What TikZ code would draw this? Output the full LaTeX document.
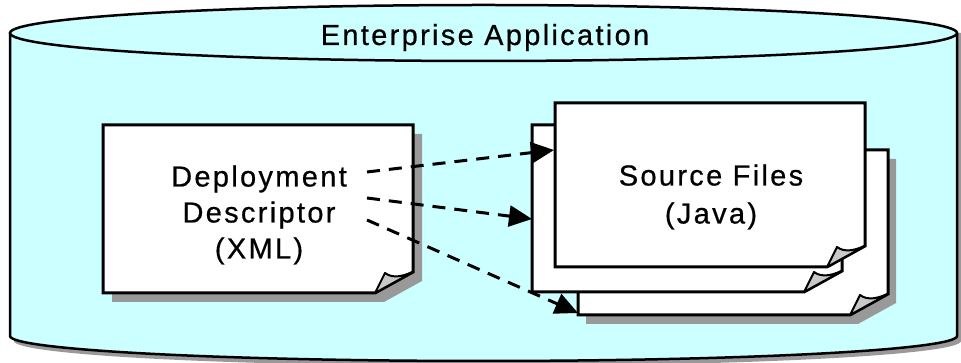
\documentclass[tikz,border=0pt]{standalone}
\usepackage{fontspec}
\setmainfont{Liberation Sans}[LetterSpace=8,FakeBold=0.6]
\usetikzlibrary{arrows.meta,calc}
\definecolor{cyl}{HTML}{CCFFFF}
\definecolor{shadowgray}{HTML}{999999}
\definecolor{flapgray}{HTML}{C8C8C8}
% outline of a page with a folded corner: node name, dx, dy
\newcommand\pgoutline[3]{($(#1.north west)+(#2,#3)$) -- ($(#1.north east)+(#2,#3)$) -- ($(#1.south east)+(#2,#3+21)$) -- ($(#1.south east)+(#2-38,#3)$) -- ($(#1.south west)+(#2,#3)$) -- cycle}
\newcommand\pgflap[1]{($(#1.south east)+(-38,0)$) -- ($(#1.south east)+(-28,20)$) .. controls ($(#1.south east)+(-20,14)$) and ($(#1.south east)+(-10,17)$) .. ($(#1.south east)+(0,21)$) -- cycle}
\begin{document}
\begin{tikzpicture}[x=1pt,y=1pt,
  pagebox/.style={inner sep=0pt, outer sep=0pt, minimum width=310pt, minimum height=166pt},
  pageline/.style={draw=black, fill=white, line width=3pt, line join=miter},
  flapline/.style={draw=black, fill=flapgray, line width=2pt, line join=round},
  dropshadow/.style={fill=shadowgray, draw=none},
  lbl/.style={inner sep=0pt, align=center, font=\fontsize{29}{36}\selectfont},
  conn/.style={line width=3pt, dash pattern=on 13pt off 9pt, -{Triangle[length=23pt,width=21pt]}},
  cylline/.style={draw=black, line width=2.5pt}]
\useasboundingbox (0,0) rectangle (961,363);
% cylinder
\path[dropshadow] (14,330) -- (14,22) arc[start angle=180,end angle=360,x radius=473.5,y radius=25] -- (961,330) -- cycle;
\fill[cyl] (10,330) -- (10,27) arc[start angle=180,end angle=360,x radius=473.5,y radius=25] -- (957,330) -- cycle;
\draw[cylline] (10,330) -- (10,27) arc[start angle=180,end angle=360,x radius=473.5,y radius=25] -- (957,330);
\filldraw[cylline, fill=cyl] (483.5,330) ellipse[x radius=473.5,y radius=28];
\node[lbl, anchor=base] (title) at (485,318) {Enterprise Application};
% left document
\node[pagebox, minimum height=168pt] (ld) at (258,154) {};
\path[dropshadow] \pgoutline{ld}{9}{-9};
\path[pageline] \pgoutline{ld}{0}{0};
\path[flapline] \pgflap{ld};
\node[lbl, font=\fontsize{29}{36}\selectfont] (ldtext) at (259,148) {Deployment\\Descriptor\\(XML)};
% source pages
\node[pagebox, minimum height=165pt] (bk) at (733,130.5) {};
\node[pagebox, minimum height=167pt] (md) at (687,154.5) {};
\node[pagebox, minimum height=164pt] (fr) at (710,178) {};
\path[dropshadow] \pgoutline{bk}{8}{-9};
\path[pageline] \pgoutline{bk}{0}{0};
\path[flapline] \pgflap{bk};
\path[pageline] \pgoutline{md}{0}{0};
\path[flapline] \pgflap{md};
\path[pageline] \pgoutline{fr}{0}{0};
\path[flapline] \pgflap{fr};
\node[lbl, font=\fontsize{29}{38}\selectfont] (frtext) at (711,166) {Source Files\\(Java)};
% connectors
\coordinate (s1) at (367,191);
\coordinate (s2) at (367,165);
\coordinate (s3) at (367,143);
\coordinate (e1) at ($(fr.north west)+(-1,-47)$);
\coordinate (e2) at ($(md.north west)+(0,-94)$);
\coordinate (e3) at ($(bk.north west)+(0,-163)$);
\draw[conn] (s1) -- (e1);
\draw[conn] (s2) -- (e2);
\draw[conn] (s3) -- (e3);
\end{tikzpicture}
\end{document}
